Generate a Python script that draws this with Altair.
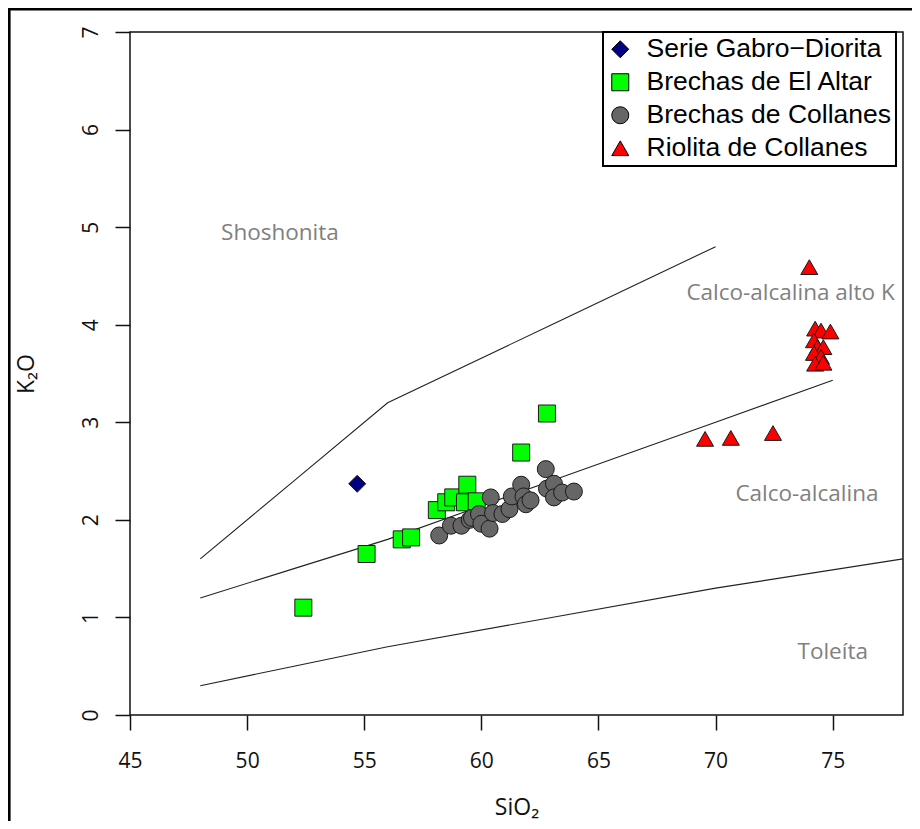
import altair as alt
import pandas as pd

# ---- data ----
series_names = ["Serie Gabro\u2212Diorita", "Brechas de El Altar", "Brechas de Collanes", "Riolita de Collanes"]
series_colors = ["#000080", "#00ff00", "#666666", "#ff0000"]
series_shapes = ["diamond", "square", "circle", "triangle-up"]
series_sizes = [289, 289, 256, 520]

gabro_x = [54.7]
gabro_y = [2.37]

altar_x = [52.4, 55.1, 56.6, 57.0, 58.1, 58.5, 58.8, 59.4, 59.3, 59.8, 61.7, 62.8]
altar_y = [1.10, 1.65, 1.80, 1.82, 2.10, 2.18, 2.23, 2.36, 2.18, 2.19, 2.69, 3.09]

collanes_x = [58.2, 58.7, 59.15, 59.5, 59.6, 59.9, 60.0, 60.35, 60.4, 60.5, 60.9, 61.2,
              61.3, 61.7, 61.8, 61.9, 62.1, 62.75, 62.8, 63.1, 63.1, 63.45, 63.95]
collanes_y = [1.84, 1.94, 1.94, 2.00, 2.02, 2.06, 1.96, 1.91, 2.23, 2.07, 2.06, 2.11,
              2.24, 2.36, 2.24, 2.16, 2.20, 2.52, 2.32, 2.37, 2.23, 2.28, 2.29]

riolita_x = [74.0, 74.25, 74.5, 74.9, 74.2, 74.35, 74.6, 74.2, 74.5, 74.25, 74.6, 69.55, 70.65, 72.45]
riolita_y = [4.59, 3.96, 3.94, 3.93, 3.84, 3.77, 3.77, 3.71, 3.67, 3.60, 3.61, 2.83, 2.84, 2.89]

# boundary lines (SiO2, K2O)
shosh_x = [48, 52, 56, 63, 70]
shosh_y = [1.6, 2.4, 3.2, 4.0, 4.8]
highk_x = [48, 52, 56, 63, 70, 75]
highk_y = [1.2, 1.5, 1.8, 2.4, 3.0, 3.43]
thol_x = [48, 52, 56, 63, 70, 78]
thol_y = [0.3, 0.5, 0.7, 1.0, 1.3, 1.6]

field_labels = ["Shoshonita", "Calco-alcalina alto K", "Calco-alcalina", "Tole\u00edta"]
field_label_x = [51.4, 73.2, 73.9, 75.0]
field_label_y = [4.94, 4.32, 2.26, 0.65]

x_ticks = [45, 50, 55, 60, 65, 70, 75]
y_ticks = [0, 1, 2, 3, 4, 5, 6, 7]

# ---- tables ----
rows = []
for name, xs, ys in zip(series_names,
                        [gabro_x, altar_x, collanes_x, riolita_x],
                        [gabro_y, altar_y, collanes_y, riolita_y]):
    for xv, yv in zip(xs, ys):
        rows.append({"serie": name, "SiO2": xv, "K2O": yv})
points = pd.DataFrame(rows)
points["order"] = points["serie"].map({n: i for i, n in enumerate(series_names)})

lrows = []
for lname, xs, ys in [("A", shosh_x, shosh_y), ("B", highk_x, highk_y), ("C", thol_x, thol_y)]:
    for i, (xv, yv) in enumerate(zip(xs, ys)):
        lrows.append({"line": lname, "SiO2": xv, "K2O": yv, "i": i})
lines_df = pd.DataFrame(lrows)

labels_df = pd.DataFrame({"label": field_labels, "SiO2": field_label_x, "K2O": field_label_y})

xscale = alt.Scale(domain=[45, 78], nice=False, zero=False)
yscale = alt.Scale(domain=[0, 7], nice=False)

xaxis = alt.Axis(values=x_ticks, format="d", title="SiO\u2082", grid=False, domain=False,
                 tickSize=15, tickWidth=1.5, tickColor="#111", labelFlush=False, labelOverlap=False,
                 labelFont="Open Sans", labelFontSize=21, labelColor="#111", labelPadding=20,
                 titleFont="Open Sans", titleFontSize=23, titleFontWeight="normal", titleColor="#111",
                 titleX=386.5, titleY=99, titleBaseline="alphabetic", titleAlign="center")
yaxis = alt.Axis(values=y_ticks, format="d", title="K\u2082O", grid=False, domain=False,
                 tickSize=15, tickWidth=1.5, tickColor="#111", labelFlush=False, labelOverlap=False,
                 labelFont="Open Sans", labelFontSize=21, labelColor="#111", labelPadding=18,
                 labelAngle=270, labelAlign="center", labelBaseline="alphabetic",
                 titleFont="Open Sans", titleFontSize=23, titleFontWeight="normal", titleColor="#111",
                 titleAngle=270, titleX=-97, titleY=341.5, titleAlign="center", titleBaseline="alphabetic")

lines = alt.Chart(lines_df).mark_line(color="#222", strokeWidth=1.1).encode(
    x=alt.X("SiO2:Q", scale=xscale, axis=xaxis),
    y=alt.Y("K2O:Q", scale=yscale, axis=yaxis),
    detail="line:N",
    order="i:Q",
)

texts = alt.Chart(labels_df).mark_text(font="Open Sans", fontSize=22.5, color="#808080",
                                       align="center", baseline="middle").encode(
    x=alt.X("SiO2:Q", scale=xscale),
    y=alt.Y("K2O:Q", scale=yscale),
    text="label:N",
)

legend = alt.Legend(title=None, orient="none", legendX=473, legendY=0,
                    labelExpr="datum.label + '\u00a0\u00a0'")

pts = alt.Chart(points).mark_point(filled=True, opacity=1, stroke="#1a1a1a", strokeWidth=1).encode(
    x=alt.X("SiO2:Q", scale=xscale),
    y=alt.Y("K2O:Q", scale=yscale),
    color=alt.Color("serie:N", scale=alt.Scale(domain=series_names, range=series_colors), legend=legend),
    shape=alt.Shape("serie:N", scale=alt.Scale(domain=series_names, range=series_shapes), legend=legend),
    size=alt.Size("serie:N", scale=alt.Scale(domain=series_names, range=series_sizes), legend=None),
    order="order:Q",
)

one = pd.DataFrame({"k": [0]})
frame_top = alt.Chart(one).mark_rule(color="black", strokeWidth=2.6).encode(
    x=alt.value(-122), x2=alt.value(800), y=alt.value(-22.8))
frame_left = alt.Chart(one).mark_rule(color="black", strokeWidth=2.6).encode(
    x=alt.value(-120.7), y=alt.value(-24), y2=alt.value(800))

chart = alt.layer(lines, texts, pts, frame_top, frame_left).properties(
    width=773, height=683,
    autosize=alt.AutoSizeParams(type="none"),
    padding={"left": 122, "top": 24, "right": 9, "bottom": 106},
).configure_view(
    stroke="#111", strokeWidth=1.5
).configure_legend(
    strokeColor="black", strokeWidth=2, fillColor="white", padding=4,
    labelFont="Liberation Sans", labelFontSize=26.5, labelColor="black", labelLimit=400,
    symbolSize=150, symbolStrokeColor="black", symbolStrokeWidth=1, symbolOffset=0,
    rowPadding=6, labelOffset=13,
)

chart.save("out.html", embed_options={"renderer": "svg", "actions": False})
